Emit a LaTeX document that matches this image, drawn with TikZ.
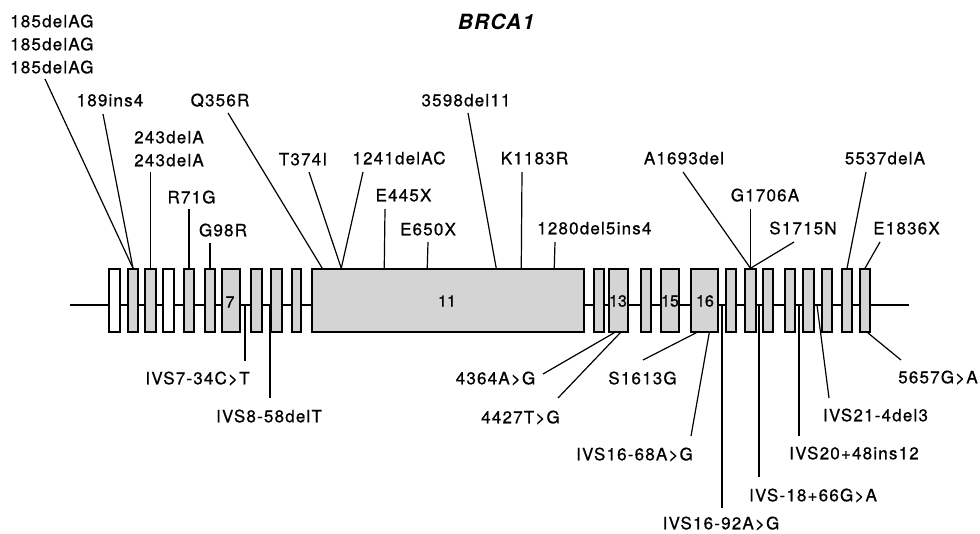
\documentclass[tikz,border=0pt]{standalone}
\usepackage{fontspec}
\setmainfont{TeX Gyre Heros}
\newfontfamily\lbfamily{TeX Gyre Heros}[LetterSpace=7, FakeBold=0.7]
\newfontfamily\numfamily{TeX Gyre Heros}[FakeBold=0.9]
\newfontfamily\ttlfamily{TeX Gyre Heros}[LetterSpace=6]
\colorlet{exonfill}{black!17}
\tikzset{
  exonbox/.style={draw, line width=1.5pt, inner sep=0pt, minimum height=63pt},
  lab/.style={font={\lbfamily\fontsize{17}{20}\selectfont}, inner sep=0pt, text height=12.5pt, text depth=0pt},
  exnum/.style={font={\numfamily\fontsize{16}{18}\selectfont}, inner sep=0pt},
  ttl/.style={font={\ttlfamily\bfseries\itshape\fontsize{21}{24}\selectfont}, inner sep=0pt},
  lead/.style={line width=1.2pt},
  gene/.style={line width=2.6pt}
}
\begin{document}
\begin{tikzpicture}[x=1pt,y=-1pt]
\useasboundingbox (0,0) rectangle (980,533);
\node[ttl] (title) at (496,22) {BRCA1};
% gene line
\coordinate (gs) at (70,305);
\coordinate (ge) at (909,305);
\draw[gene] (gs) -- (ge);
% exons
\foreach \n/\l/\r/\f in {1/109/120/white, 2/128/138/exonfill, 3/145/156/exonfill, 4/163/174/white,
  5/184/194/exonfill, 6/205/215/exonfill, 7/222/240/exonfill, 8/251/262/exonfill, 9/271/282/exonfill,
  10/292/301/exonfill, 11/312/584/exonfill, 12/594/604/exonfill, 13/609/628/exonfill, 14/641/651/exonfill,
  15/661/679/exonfill, 16/691/718/exonfill, 17/726/736/exonfill, 18/745/756/exonfill, 19/763/773/exonfill,
  20/785/795/exonfill, 21/803/814/exonfill, 22/822/832/exonfill, 23/842/852/exonfill, 24/860/870/exonfill}{
  \pgfmathsetmacro\w{\r-\l}
  \pgfmathsetmacro\c{(\l+\r)/2}
  \node[exonbox, fill=\f, minimum width=\w pt] (e\n) at (\c,300.5) {};
}
\node[exnum] (n7) at (230,302) {7};
\node[exnum] (n11) at (447,301) {11};
\node[exnum] (n13) at (618,301) {13};
\node[exnum] (n15) at (670,301) {15};
\node[exnum] (n16) at (705,301) {16};
% top labels
\node[lab, anchor=west] (l185a) at (10,21) {185delAG};
\node[lab, anchor=west] (l185b) at (10,44) {185delAG};
\node[lab, anchor=west] (l185c) at (10,67) {185delAG};
\node[lab] (l189) at (110,100) {189ins4};
\node[lab] (lq356) at (220,100) {Q356R};
\node[lab] (l243a) at (169,137) {243delA};
\node[lab] (l243b) at (169,160) {243delA};
\node[lab] (lr71) at (191.5,197) {R71G};
\node[lab] (lg98) at (223,230) {G98R};
\node[lab] (lt374) at (303,159) {T374I};
\node[lab] (l1241) at (399,158) {1241delAC};
\node[lab] (le445) at (403.5,195) {E445X};
\node[lab] (le650) at (428,229) {E650X};
\node[lab] (l3598) at (466,100) {3598del11};
\node[lab] (lk1183) at (534.5,158) {K1183R};
\node[lab, anchor=west] (l1280) at (537,228) {1280del5ins4};
\node[lab] (la1693) at (684,158) {A1693del};
\node[lab] (lg1706) at (765,195) {G1706A};
\node[lab] (ls1715) at (803,228) {S1715N};
\node[lab] (l5537) at (885,158) {5537delA};
\node[lab] (le1836) at (906.5,228) {E1836X};
% bottom labels
\node[lab] (livs7) at (197.5,378) {IVS7-34C>T};
\node[lab] (livs8) at (269,416) {IVS8-58delT};
\node[lab] (l4364) at (495.5,378) {4364A>G};
\node[lab] (l4427) at (520.5,417) {4427T>G};
\node[lab] (ls1613) at (642.5,378) {S1613G};
\node[lab] (livs16a) at (634.5,454) {IVS16-68A>G};
\node[lab] (livs16b) at (721,523) {IVS16-92A>G};
\node[lab] (livs18) at (813,495) {IVS-18+66G>A};
\node[lab] (livs20) at (854,453) {IVS20+48ins12};
\node[lab] (livs21) at (875.5,415) {IVS21-4del3};
\node[lab] (l5657) at (938,377) {5657G>A};
% leader ends near labels
\coordinate (p185) at (45,79);
\coordinate (p189) at (103,114);
\coordinate (pq356) at (228,113);
\coordinate (p243) at (150.5,172);
\coordinate (pr71) at (189,209);
\coordinate (pg98) at (210,243);
\coordinate (pt374) at (309,172);
\coordinate (p1241) at (363,172);
\coordinate (pe445) at (385,209);
\coordinate (pe650) at (428,242);
\coordinate (p3598) at (468,113);
\coordinate (pk1183) at (522,172);
\coordinate (p1280) at (555,242);
\coordinate (pa1693) at (683,172);
\coordinate (pg1706) at (750.5,209);
\coordinate (ps1715) at (794,242);
\coordinate (p5537) at (866,172);
\coordinate (pe1836) at (880,242);
\coordinate (pivs7) at (245,361);
\coordinate (pivs8) at (270,398);
\coordinate (p4364) at (543,374);
\coordinate (p4427) at (558,398);
\coordinate (ps1613) at (643,360);
\coordinate (pivs16a) at (691,436);
\coordinate (pivs16b) at (722,508);
\coordinate (pivs18) at (759,477);
\coordinate (pivs20) at (799,436);
\coordinate (pivs21) at (829,398);
\coordinate (p5657) at (901,360);
% intron points
\coordinate (i7) at (245,305);
\coordinate (i8) at (270,305);
\coordinate (i16) at (722,305);
\coordinate (i18) at (759,305);
\coordinate (i20) at (799,305);
\coordinate (i21) at (817,305);
% top leaders
\draw[lead] (p185) -- (e2.north);
\draw[lead] (p189) -- (e2.north);
\draw[lead] (pq356) -- ([xshift=11pt]e11.north west);
\draw[lead] (p243) -- (e3.north);
\draw[lead] (pr71) -- (e5.north);
\draw[lead] (pg98) -- (e6.north);
\draw[lead] (pt374) -- ([xshift=30pt]e11.north west);
\draw[lead] (p1241) -- ([xshift=30pt]e11.north west);
\draw[lead] (pe445) -- ([xshift=73pt]e11.north west);
\draw[lead] (pe650) -- ([xshift=116pt]e11.north west);
\draw[lead] (p3598) -- ([xshift=185pt]e11.north west);
\draw[lead] (pk1183) -- ([xshift=210pt]e11.north west);
\draw[lead] (p1280) -- ([xshift=243pt]e11.north west);
\draw[lead] (pa1693) -- (e18.north);
\draw[lead] (pg1706) -- (e18.north);
\draw[lead] (ps1715) -- (e18.north);
\draw[lead] (p5537) -- (e23.north);
\draw[lead] (pe1836) -- (e24.north);
% bottom leaders
\draw[lead] (i7) -- (pivs7);
\draw[lead] (i8) -- (pivs8);
\draw[lead] (p4364) -- ([xshift=6pt]e13.south west);
\draw[lead] (p4427) -- ([xshift=12pt]e13.south west);
\draw[lead] (ps1613) -- ([xshift=6pt]e16.south west);
\draw[lead] (pivs16a) -- ([xshift=19pt]e16.south west);
\draw[lead] (i16) -- (pivs16b);
\draw[lead] (i18) -- (pivs18);
\draw[lead] (i20) -- (pivs20);
\draw[lead] (i21) -- (pivs21);
\draw[lead] (p5657) -- ([xshift=-3pt]e24.south east);
\end{tikzpicture}
\end{document}
